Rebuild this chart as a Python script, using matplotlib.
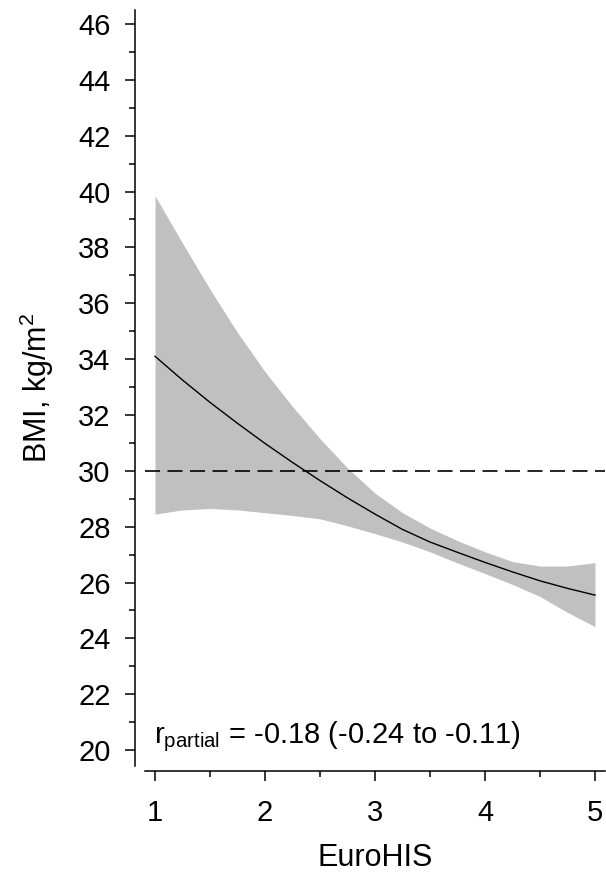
import numpy as np
import matplotlib
matplotlib.use("Agg")
import matplotlib.pyplot as plt
from matplotlib.ticker import MultipleLocator

plt.rcParams['font.family'] = ['Liberation Sans', 'DejaVu Sans']

# Valores
eurohis = [1.0, 1.25, 1.5, 1.75, 2.0, 2.25, 2.5, 2.75, 3.0,
           3.25, 3.5, 3.75, 4.0, 4.25, 4.5, 4.75, 5.0]
bmi_fit = [34.1, 33.25, 32.45, 31.7, 30.98, 30.3, 29.65, 29.03, 28.45,
           27.9, 27.45, 27.08, 26.72, 26.38, 26.06, 25.79, 25.55]
bmi_upper = [39.85, 38.15, 36.5, 34.95, 33.55, 32.3, 31.15, 30.1, 29.2,
             28.5, 27.95, 27.5, 27.1, 26.75, 26.59, 26.59, 26.71]
bmi_lower = [28.45, 28.6, 28.65, 28.6, 28.5, 28.4, 28.28, 28.03, 27.75,
             27.45, 27.1, 26.7, 26.32, 25.93, 25.5, 24.93, 24.42]
obesity_cut = 30
x_ticks = [1, 2, 3, 4, 5]
y_ticks = list(range(20, 47, 2))
annot = r'r$_\mathregular{partial}$ = -0.18 (-0.24 to -0.11)'

fig = plt.figure(figsize=(6.06, 8.76), dpi=100)
ax = fig.add_axes([145/606, 1 - 766/876, 460/606, 756/876])

ax.fill_between(eurohis, bmi_lower, bmi_upper, color='#c0c0c0', linewidth=0)
ax.plot(eurohis, bmi_fit, color='black', linewidth=1.0)
ax.axhline(obesity_cut, color='black', linewidth=1.2, dashes=(9, 4.5))

ax.set_xlim(0.909, 5.091)
ax.set_ylim(19.43, 46.5)
ax.set_xticks(x_ticks)
ax.set_yticks(y_ticks)
ax.xaxis.set_minor_locator(MultipleLocator(0.5))
ax.yaxis.set_minor_locator(MultipleLocator(1))

for s in ['top', 'right']:
    ax.spines[s].set_visible(False)
ax.spines['left'].set_position(('outward', 7.2))
ax.spines['bottom'].set_position(('outward', 3.6))
for s in ['left', 'bottom']:
    ax.spines[s].set_linewidth(1.1)

ax.tick_params(which='major', length=7.5, width=1.1, labelsize=21, pad=10)
ax.tick_params(which='minor', length=4.5, width=1.1)
ax.tick_params(axis='x', which='major', pad=13)

ax.set_xlabel('EuroHIS', fontsize=22, labelpad=11)
ax.set_ylabel(r'BMI, kg/m$^\mathregular{2}$', fontsize=22, labelpad=16)

ax.text(0.02, 0.03, annot, transform=ax.transAxes, fontsize=21,
        ha='left', va='baseline')

fig.savefig('out.png', dpi=100)
